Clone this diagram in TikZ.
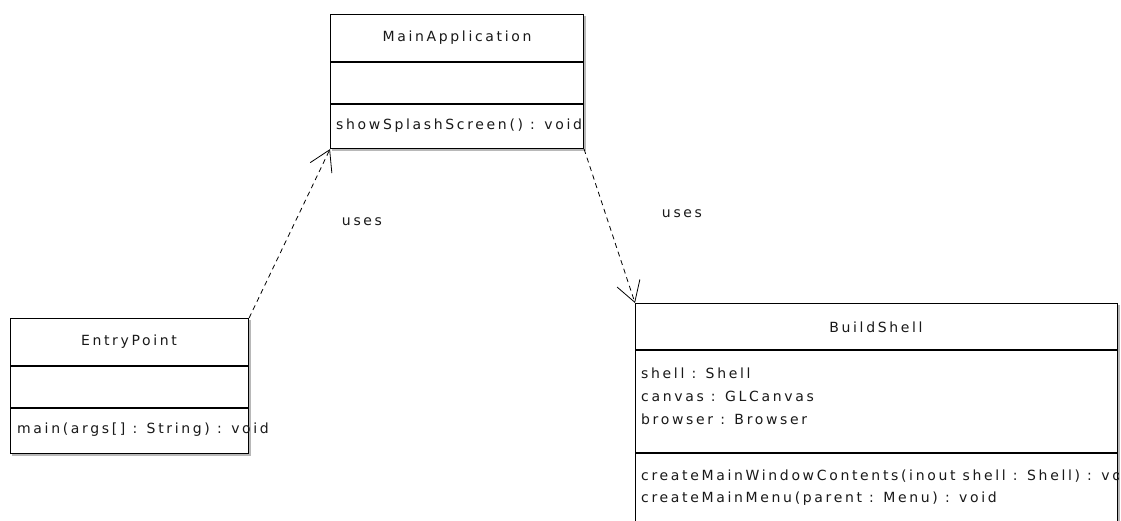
\documentclass[tikz,border=0pt]{standalone}
\usepackage{fontspec}
\newfontfamily\umlfont[LetterSpace=19]{DejaVu Sans}
\usetikzlibrary{arrows.meta}
\begin{document}
\begin{tikzpicture}[x=1pt,y=-1pt,
  box/.style={draw=black, line width=1.1pt, fill=white, rectangle, inner sep=0pt, anchor=north west},
  shadow/.style={fill=black!28, draw=none},
  umltext/.style={font={\umlfont\fontsize{14pt}{16pt}\selectfont}, text=black!90, inner sep=0pt},
  attr/.style={umltext, anchor=west},
  hdr/.style={umltext, anchor=center},
  sepline/.style={line width=1.1pt},
  uses/.style={line width=0.8pt, dash pattern=on 5pt off 4pt,
    -{Straight Barb[length=20pt,width=24pt,line width=0.8pt]}},
  lbl/.style={umltext, anchor=center}
]
\useasboundingbox (0,0) rectangle (1121,521);
\clip (0,0) rectangle (1121,521);

% shadows
\fill[shadow] (332,16) rectangle (586,151);
\fill[shadow] (12,320) rectangle (251,456);
\fill[shadow] (637,305) rectangle (1120,560);

% MainApplication
\node[box, minimum width=253pt, minimum height=134pt] (ma) at (330,14) {};
\draw[sepline] (ma.west |- 0,62) -- (ma.east |- 0,62);
\draw[sepline] (ma.west |- 0,104) -- (ma.east |- 0,104);
\begin{scope}
\clip (ma.north west) rectangle (ma.south east);
\node[hdr] (maname) at (457,38) {MainApplication};
\node[attr] (maop) at (336,126) {showSplashScreen() : void};
\end{scope}

% EntryPoint
\node[box, minimum width=238pt, minimum height=135pt] (ep) at (10,318) {};
\draw[sepline] (ep.west |- 0,366) -- (ep.east |- 0,366);
\draw[sepline] (ep.west |- 0,408) -- (ep.east |- 0,408);
\node[hdr] (epname) at (129,342) {EntryPoint};
\node[attr] (epop) at (17,430) {main(args[] : String) : void};

% BuildShell
\node[box, minimum width=482pt, minimum height=240pt] (bs) at (635,303) {};
\draw[sepline] (bs.west |- 0,350) -- (bs.east |- 0,350);
\draw[sepline] (bs.west |- 0,453) -- (bs.east |- 0,453);
\begin{scope}
\clip (bs.north west) rectangle (bs.south east);
\node[hdr] (bsname) at (876,327) {BuildShell};
\node[attr] (bsa1) at (641,373) {shell : Shell};
\node[attr] (bsa2) at (641,396) {canvas : GLCanvas};
\node[attr] (bsa3) at (641,419) {browser : Browser};
\node[attr] (bsm1) at (641,476) {createMainWindowContents(inout shell : Shell) : void};
\node[attr] (bsm2) at (641,499) {createMainMenu(parent : Menu) : void};
\end{scope}

% connectors
\draw[uses] (ep.north east) -- (ma.south west);
\draw[uses] (ma.south east) -- (bs.north west);
\node[lbl] (l1) at (362,222) {uses};
\node[lbl] (l2) at (682,214) {uses};
\end{tikzpicture}
\end{document}
